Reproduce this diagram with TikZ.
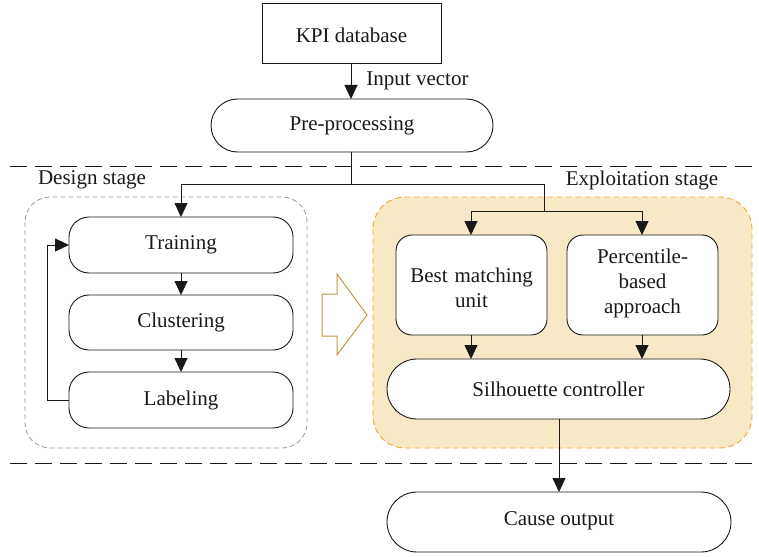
\documentclass[tikz,border=0pt]{standalone}
\usepackage{fontspec}
\setmainfont{Liberation Serif}
\usetikzlibrary{arrows.meta,calc}
\definecolor{stagefill}{RGB}{248,233,198}
\definecolor{stageline}{RGB}{240,168,50}
\definecolor{hollowarrow}{RGB}{200,150,70}
\definecolor{inkline}{RGB}{25,25,25}
\begin{document}
\begin{tikzpicture}[x=1pt,y=-1pt,
  every node/.style={font=\fontsize{21}{25}\selectfont, text=inkline},
  flowline/.style={draw=inkline, line width=0.9pt},
  flowarrow/.style={flowline, -{Triangle[length=14pt,width=13pt]}},
  pill/.style={draw=inkline, line width=0.9pt, fill=white, rounded corners=#1},
  pill/.default=20pt,
  sepline/.style={draw=inkline, line width=0.9pt, dash pattern=on 17pt off 8pt},
  lbl/.style={inner sep=0pt}
]
\useasboundingbox (0,0) rectangle (759,556);

% stage separators
\draw[sepline] (10,166) -- (754,166);
\draw[sepline] (10,463) -- (754,463);

% stage frames
\draw[draw=gray!80, line width=0.8pt, dash pattern=on 5pt off 3pt, rounded corners=25pt]
  (25,197) rectangle (307,448);
\draw[draw=stageline, fill=stagefill, line width=0.9pt, dash pattern=on 6pt off 3.5pt, rounded corners=32pt]
  (373,197) rectangle (752,448);
\node[lbl] (design) at (92,180) {Design stage};
\node[lbl] (exploit) at (642,180) {Exploitation stage};

% hollow transition arrow
\draw[draw=hollowarrow, line width=1pt, fill=white]
  (322,294) -- (337,294) -- (337,274) -- (367,315) -- (337,355) -- (337,336) -- (322,336) -- cycle;

% top chain
\draw[draw=inkline, line width=0.9pt] (262,3) rectangle (441,63);
\node (kpi) at (351.5,35) {KPI database};
\coordinate (kpib) at (351,63);
\draw[pill=26.5pt] (211,99) rectangle (493,152);
\node (pre) at (352,125.5) {Pre-processing};
\coordinate (pret) at (351,99);
\coordinate (preb) at (351,152);
\draw[flowarrow] (kpib) -- (pret) node[midway, right=15pt, lbl] {Input vector};

% design stage blocks
\draw[pill] (69,217) rectangle (293,273);
\node (train) at (181,245) {Training};
\draw[pill] (69,295) rectangle (293,350);
\node (clust) at (181,322.5) {Clustering};
\draw[pill] (69,372) rectangle (293,428);
\node (label) at (181,400) {Labeling};
\coordinate (traint) at (181,217);
\coordinate (trainb) at (181,273);
\coordinate (trainl) at (69,245);
\coordinate (clustt) at (181,295);
\coordinate (clustb) at (181,350);
\coordinate (labelt) at (181,372);
\coordinate (labell) at (69,400);

% exploitation stage blocks
\draw[pill=16pt] (396,235) rectangle (547,335);
\node[align=center, text width=140pt] (bmu) at (471.5,288) {Best matching\\unit};
\draw[pill=16pt] (567,235) rectangle (718,335);
\node[align=center, text width=140pt] (pct) at (642.5,283) {Percentile-\\based\\approach};
\coordinate (bmut) at (471,235);
\coordinate (bmub) at (471,335);
\coordinate (pctt) at (642,235);
\coordinate (pctb) at (642,335);
\draw[pill=30pt] (387,359) rectangle (730,419);
\node (sil) at (558.5,389) {Silhouette controller};
\coordinate (silt471) at (471,359);
\coordinate (silt642) at (642,359);
\coordinate (silb) at (559,419);
\draw[pill=30pt] (387,492) rectangle (731,552);
\node (cause) at (559,521) {Cause output};
\coordinate (causet) at (559,492);

% connectors
\coordinate (split) at (351,184);
\coordinate (fork) at (544,211);
\draw[flowline] (preb) -- (split);
\draw[flowarrow] (split) -| (traint);
\draw[flowline] (split) -- (544,184) -- (fork);
\draw[flowarrow] (fork) -| (bmut);
\draw[flowarrow] (fork) -| (pctt);
\draw[flowarrow] (trainb) -- (clustt);
\draw[flowarrow] (clustb) -- (labelt);
\draw[flowarrow] (labell) -- (47,400) -- (47,245) -- (trainl);
\draw[flowarrow] (bmub) -- (silt471);
\draw[flowarrow] (pctb) -- (silt642);
\draw[flowarrow] (silb) -- (causet);
\end{tikzpicture}
\end{document}
